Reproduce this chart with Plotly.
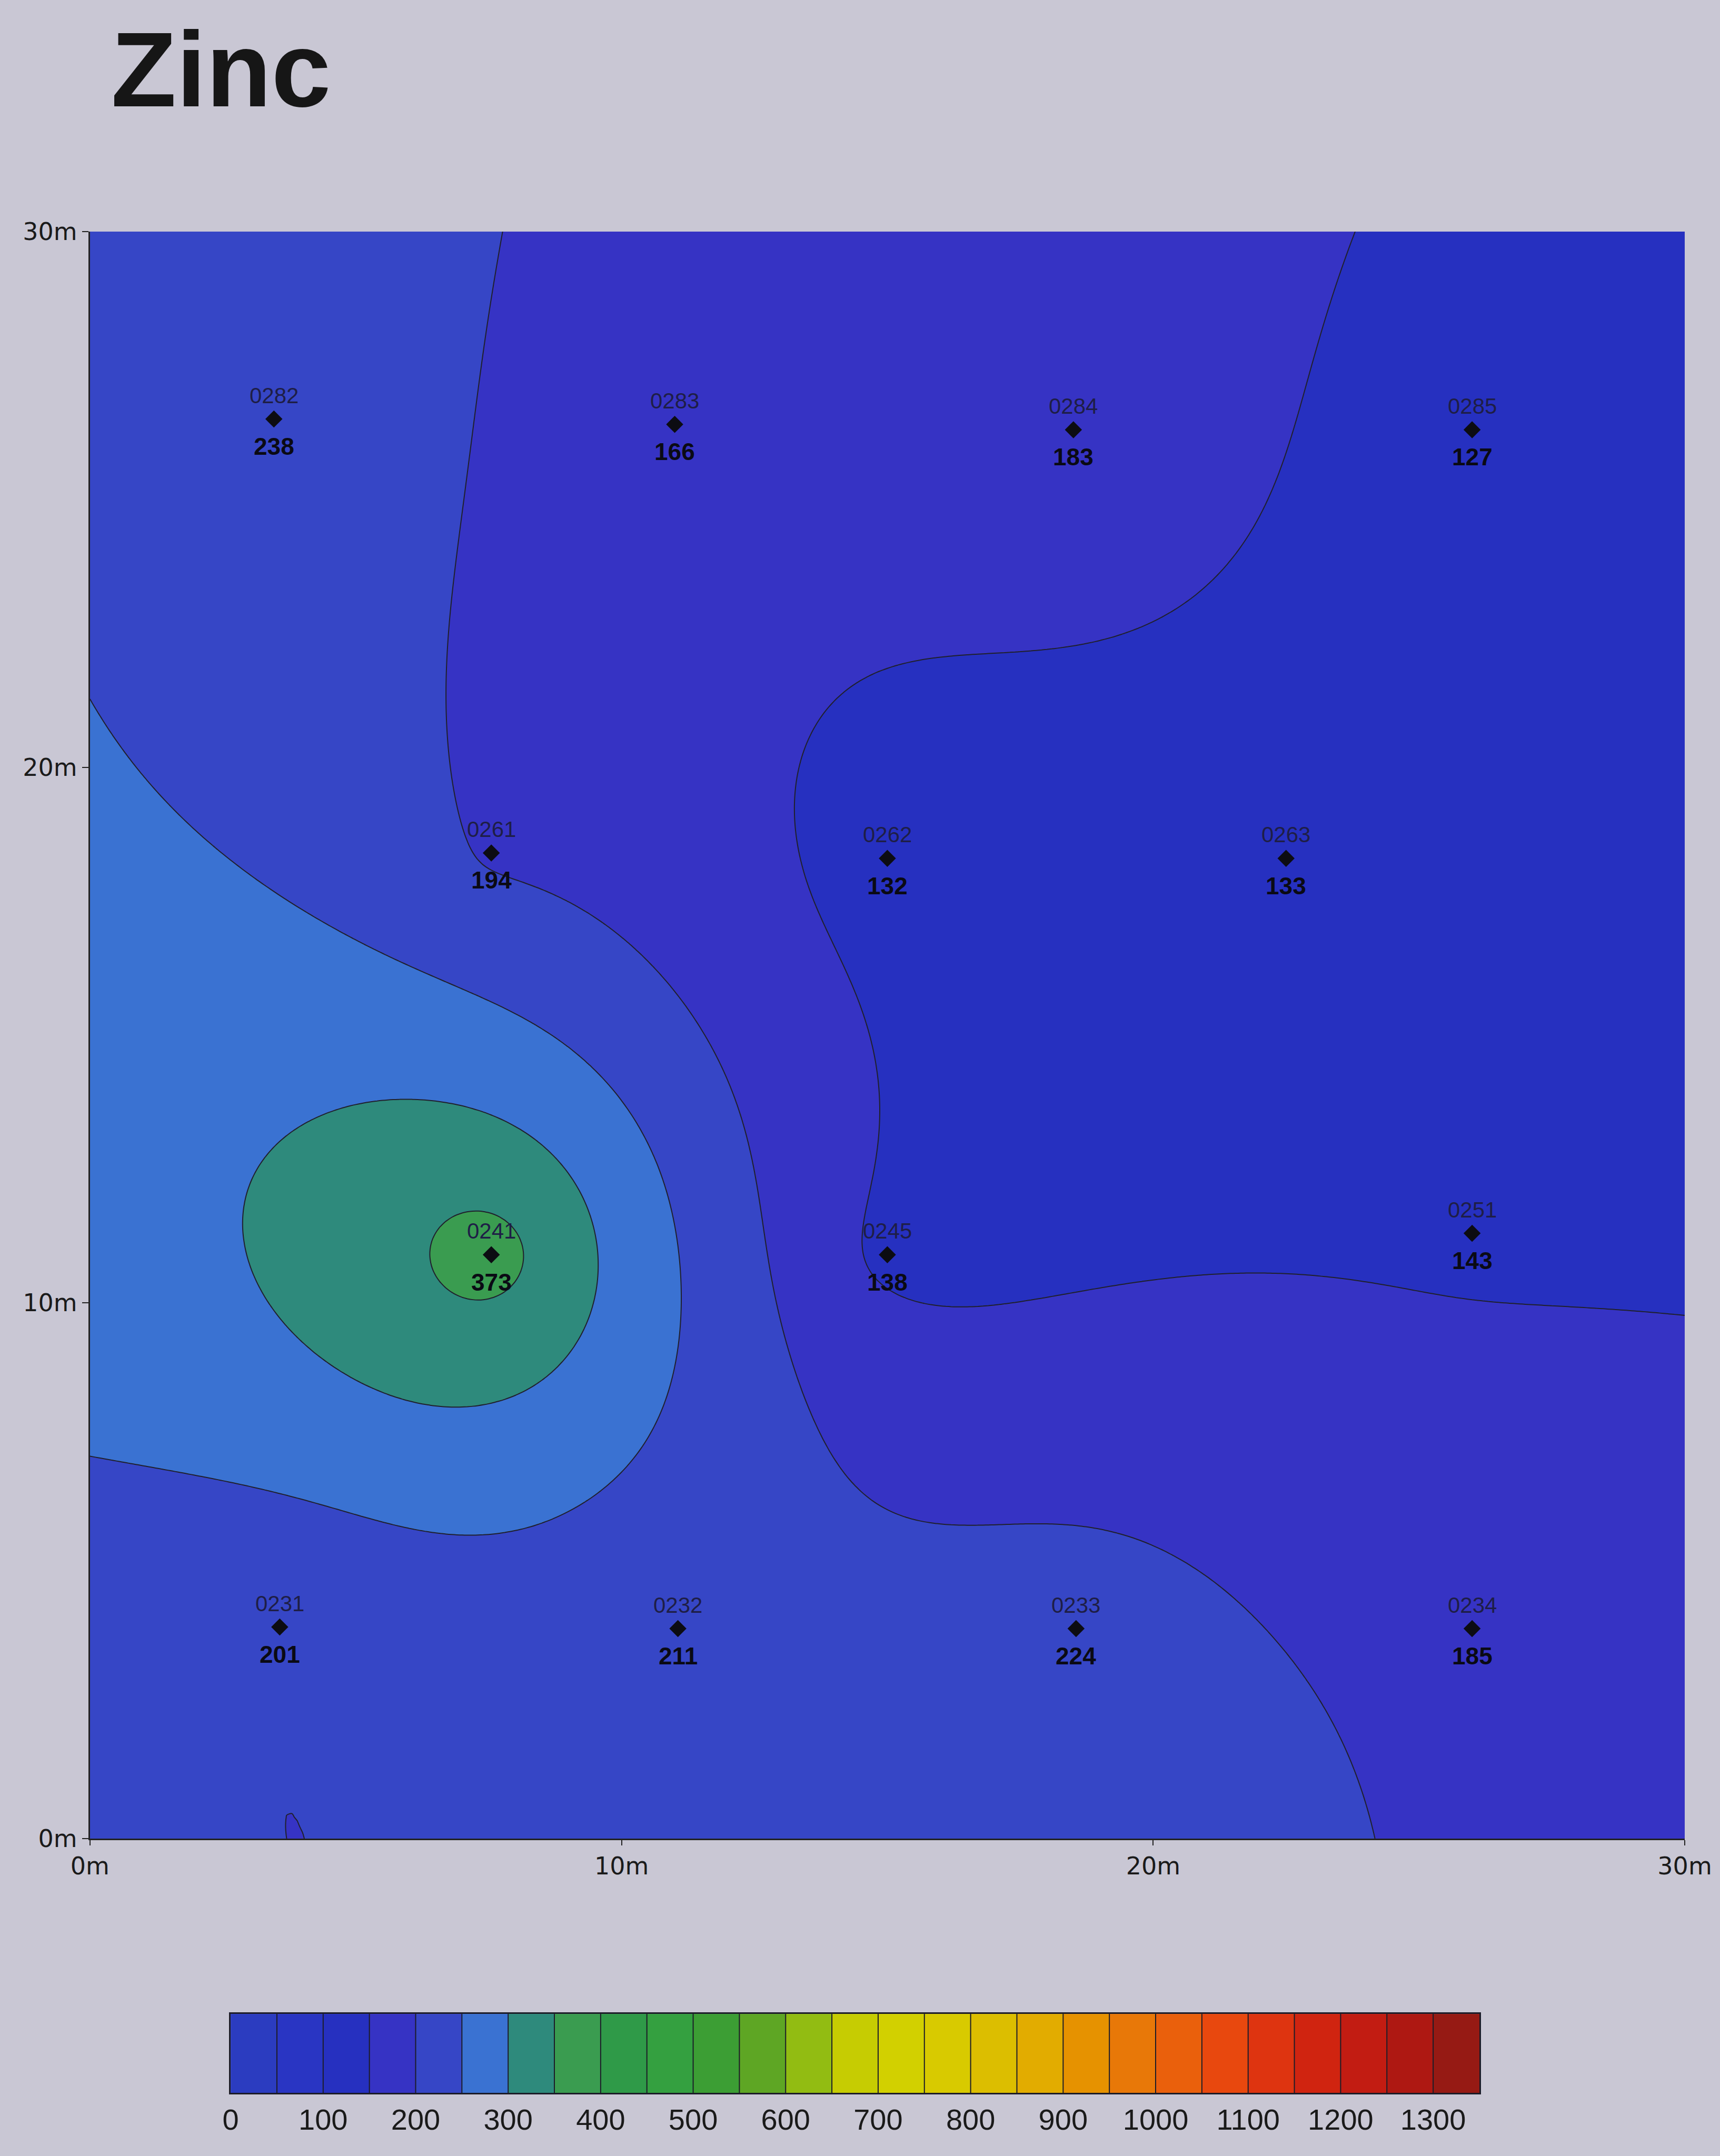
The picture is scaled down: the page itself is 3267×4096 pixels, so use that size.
import numpy as np
import plotly.graph_objects as go

# Soil samples: station id, easting / northing in metres, zinc reading
sample_ids = ["0282", "0283", "0284", "0285",
              "0261", "0262", "0263",
              "0241", "0245", "0251",
              "0231", "0232", "0233", "0234"]
east_m = [3.46, 11.0, 18.5, 26.0,
          7.55, 15.0, 22.5,
          7.55, 15.0, 26.0,
          3.57, 11.06, 18.55, 26.0]
north_m = [26.5, 26.4, 26.3, 26.3,
           18.4, 18.3, 18.3,
           10.9, 10.9, 11.3,
           3.95, 3.92, 3.92, 3.92]
zinc = [238, 166, 183, 127,
        194, 132, 133,
        373, 138, 143,
        201, 211, 224, 185]

# Concentration classes (width 50) and their colours
class_edges = list(range(0, 1351, 50))
class_colors = ["#2b3cc0", "#2935c3", "#2630c0", "#3633c4", "#3646c6", "#3a72d2",
                "#2e8a7c", "#3a9c50", "#2f9a48", "#34a040", "#3c9e34", "#5ea624",
                "#92bc12", "#c6cc02", "#d2d000", "#d8ca00", "#dcbe00", "#e2ac00",
                "#e69200", "#e87808", "#ea600c", "#e8480e", "#de3410", "#d02410",
                "#c21c12", "#ae1812", "#961a14"]
legend_ticks = list(range(0, 1301, 100))

site_ticks = [0, 10, 20, 30]
site_ticktext = ["0m", "10m", "20m", "30m"]


def kriged_surface(px, py, pz, gx, gy):
    """Ordinary kriging with a linear variogram, evaluated on a regular grid."""
    px, py, pz = map(np.asarray, (px, py, pz))
    n = len(pz)
    gamma = lambda h: h
    d = np.hypot(px[:, None] - px[None, :], py[:, None] - py[None, :])
    a = np.ones((n + 1, n + 1))
    a[:n, :n] = gamma(d)
    a[n, n] = 0.0
    gxx, gyy = np.meshgrid(gx, gy)
    r = np.hypot(gxx.ravel()[None, :] - px[:, None], gyy.ravel()[None, :] - py[:, None])
    rhs = np.ones((n + 1, r.shape[1]))
    rhs[:n] = gamma(r)
    w = np.linalg.solve(a, rhs)
    return (w[:n].T @ pz).reshape(gxx.shape)


grid_x = np.linspace(0, 30, 301)
grid_y = np.linspace(0, 30, 301)
surface = kriged_surface(east_m, north_m, zinc, grid_x, grid_y)

# stepped colour scale, one flat block per class
n_cls = len(class_colors)
colorscale = []
for k, col in enumerate(class_colors):
    lo = max(0.0, (k - 0.5) / (n_cls - 1))
    hi = min(1.0, (k + 0.5) / (n_cls - 1))
    colorscale += [[lo, col], [hi, col]]

step = class_edges[1] - class_edges[0]
mids = [e + step / 2 for e in class_edges[:-1]]

fig = go.Figure()

fig.add_trace(go.Contour(
    x=grid_x, y=grid_y, z=surface,
    autocontour=False,
    contours=dict(start=class_edges[1], end=class_edges[-2], size=step,
                  coloring="fill", showlines=True),
    colorscale=colorscale, zmin=mids[0], zmax=mids[-1],
    line=dict(color="#20202c", width=2, smoothing=1),
    showscale=False, hoverinfo="skip",
    xaxis="x", yaxis="y",
))

fig.add_trace(go.Scatter(
    x=east_m, y=north_m, mode="markers",
    marker=dict(symbol="diamond", size=25, color="#0c0c12"),
    hoverinfo="skip", showlegend=False, xaxis="x", yaxis="y",
))

# legend strip
fig.add_trace(go.Heatmap(
    x=mids, y=[0], z=[mids],
    colorscale=colorscale, zmin=mids[0], zmax=mids[-1],
    showscale=False, hoverinfo="skip", xaxis="x2", yaxis="y2",
))
sep_x, sep_y = [], []
for e in class_edges[1:-1]:
    sep_x += [e, e, None]
    sep_y += [-0.5, 0.5, None]
fig.add_trace(go.Scatter(
    x=sep_x, y=sep_y, mode="lines",
    line=dict(color="#1c1c28", width=2),
    hoverinfo="skip", showlegend=False, xaxis="x2", yaxis="y2",
))

annotations = []
for sid, ex, ny, val in zip(sample_ids, east_m, north_m, zinc):
    annotations.append(dict(
        x=ex, y=ny, xref="x", yref="y", text=sid, showarrow=False,
        yshift=45, font=dict(family="Liberation Sans, Arial, sans-serif",
                             size=42, color="#1e1e46")))
    annotations.append(dict(
        x=ex, y=ny, xref="x", yref="y", text=str(val), showarrow=False,
        yshift=-52, font=dict(family="Liberation Sans, Arial, sans-serif",
                              size=46, color="#0a0a14", weight=700)))

annotations.append(dict(
    x=0.0640, y=0.9680, xref="paper", yref="paper", xanchor="left", yanchor="middle",
    text="Zinc", showarrow=False,
    font=dict(family="Liberation Sans, Arial, sans-serif", size=203, color="#161616", weight=700)))

axis_font = dict(family="DejaVu Sans, sans-serif", size=46, color="#1a1a1a")

fig.update_layout(
    width=3267, height=4096,
    margin=dict(l=0, r=0, t=0, b=0),
    paper_bgcolor="#c9c7d4", plot_bgcolor="#c9c7d4",
    showlegend=False,
    annotations=annotations,
    xaxis=dict(domain=[0.0523, 0.9795], range=[0, 30], anchor="y", automargin=False,
               tickvals=site_ticks, ticktext=site_ticktext,
               ticks="outside", ticklen=10, tickwidth=2, tickcolor="#222",
               showline=True, linecolor="#222", linewidth=3,
               showgrid=False, zeroline=False, tickfont=axis_font),
    yaxis=dict(domain=[0.1472, 0.8926], range=[0, 30], anchor="x", automargin=False,
               tickvals=site_ticks, ticktext=site_ticktext,
               ticks="outside", ticklen=12, tickwidth=2, tickcolor="#222",
               showline=True, linecolor="#222", linewidth=3,
               showgrid=False, zeroline=False, tickfont=axis_font),
    xaxis2=dict(domain=[0.1341, 0.8601], range=[class_edges[0], class_edges[-1]], anchor="y2",
                automargin=False, tickvals=legend_ticks, ticks="", ticklabelstandoff=0,
                showline=True, mirror=True, linecolor="#1c1c28", linewidth=3,
                showgrid=False, zeroline=False,
                tickfont=dict(family="Liberation Sans, Arial, sans-serif", size=56, color="#1a1a1a")),
    yaxis2=dict(domain=[0.0293, 0.0659], range=[-0.5, 0.5], anchor="x2", automargin=False,
                showticklabels=False, ticks="",
                showline=True, mirror=True, linecolor="#1c1c28", linewidth=3,
                showgrid=False, zeroline=False),
)

fig.write_html("out.html")
